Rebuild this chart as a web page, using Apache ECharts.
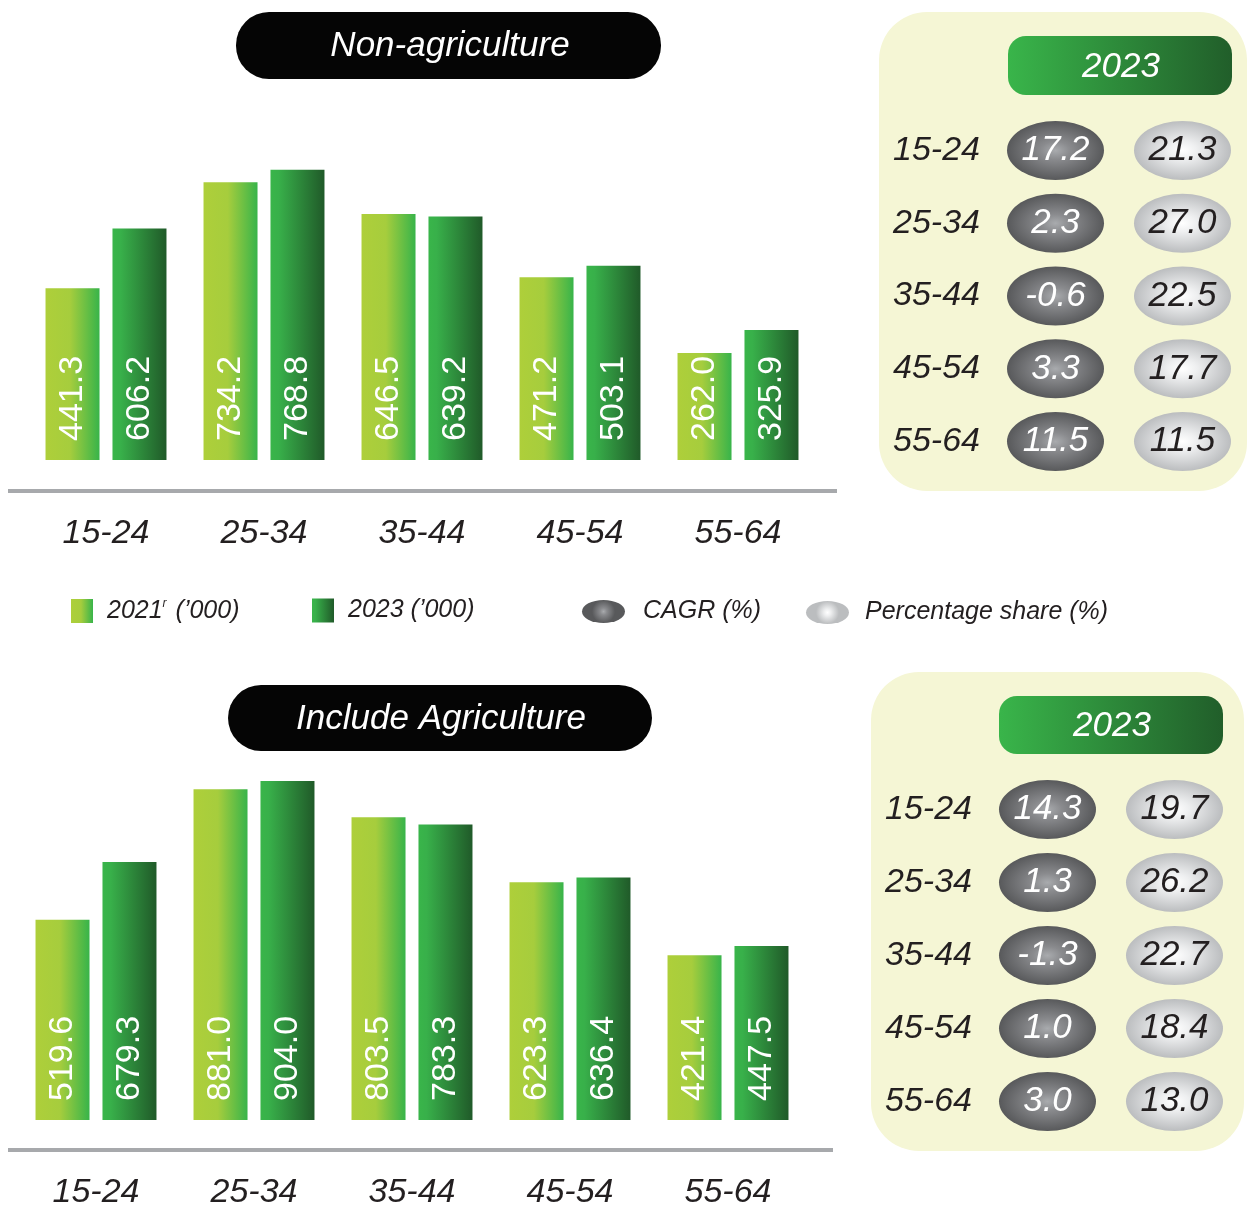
<!DOCTYPE html>
<html>
<head>
<meta charset="utf-8">
<script src="https://cdn.jsdelivr.net/npm/echarts@6/dist/echarts.min.js"></script>
<style>
  html, body { margin: 0; padding: 0; background: #fff; }
  #chartDom { width: 1247px; height: 1205px; }
</style>
</head>
<body>
<div id="chartDom"></div>
<script>
// age groups
const ages = ['15-24', '25-34', '35-44', '45-54', '55-64'];

// Non-agriculture ('000)
const nonAg2021 = [441.3, 734.2, 646.5, 471.2, 262.0];
const nonAg2023 = [606.2, 768.8, 639.2, 503.1, 325.9];
const nonAgCagr = [17.2, 2.3, -0.6, 3.3, 11.5];
const nonAgShare = [21.3, 27.0, 22.5, 17.7, 11.5];

// Include agriculture ('000)
const ag2021 = [519.6, 881.0, 803.5, 623.3, 421.4];
const ag2023 = [679.3, 904.0, 783.3, 636.4, 447.5];
const agCagr = [14.3, 1.3, -1.3, 1.0, 3.0];
const agShare = [19.7, 26.2, 22.7, 18.4, 13.0];

const cols = ['CAGR', 'Share'];

// bars in the source sit on a small stub below zero
const BASE = -34;

const FONT = '"Liberation Sans", Arial, sans-serif';
const ellipse = 'path://M0,50 A50,50 0 1,1 100,50 A50,50 0 1,1 0,50 Z';

const light = new echarts.graphic.LinearGradient(0, 0, 1, 0, [
  { offset: 0, color: '#aecf3a' },
  { offset: 0.45, color: '#a6cd3d' },
  { offset: 1, color: '#38b44a' }
]);
const dark = new echarts.graphic.LinearGradient(0, 0, 1, 0, [
  { offset: 0, color: '#39b54a' },
  { offset: 0.15, color: '#38b04a' },
  { offset: 1, color: '#205a29' }
]);
const greyDark = new echarts.graphic.RadialGradient(0.5, 0.5, 0.5, [
  { offset: 0, color: '#a9abae' },
  { offset: 0.3, color: '#8a8b8e' },
  { offset: 1, color: '#58595b' }
]);
const greyLight = new echarts.graphic.RadialGradient(0.5, 0.5, 0.5, [
  { offset: 0, color: '#ffffff' },
  { offset: 0.3, color: '#eeeff0' },
  { offset: 1, color: '#bbbdbf' }
]);

function barSeries(name, data, axis, color) {
  return {
    name: name,
    type: 'bar',
    xAxisIndex: axis,
    yAxisIndex: axis,
    data: data,
    barWidth: 54,
    barGap: '24%',
    itemStyle: { color: color }
  };
}

// vertical value text laid over each bar, placed via the axis coords
function valueText(data, axis, dx) {
  return {
    type: 'custom',
    xAxisIndex: axis,
    yAxisIndex: axis,
    clip: false,
    z: 5,
    silent: true,
    data: data.map((v, i) => [i, v]),
    renderItem: function (params, api) {
      const pt = api.coord([api.value(0), BASE]);
      return {
        type: 'text',
        x: pt[0] + dx,
        y: pt[1] - 19,
        rotation: Math.PI / 2,
        style: {
          text: api.value(1).toFixed(1),
          fill: '#fff',
          font: '34px ' + FONT,
          align: 'left',
          verticalAlign: 'middle'
        }
      };
    }
  };
}

function dotSeries(name, vals, axis, col, fill, txt) {
  return {
    name: name,
    type: 'scatter',
    xAxisIndex: axis,
    yAxisIndex: axis,
    symbol: ellipse,
    symbolSize: [97, 59],
    itemStyle: { color: fill, opacity: 1 },
    data: vals.map((v, i) => [col, ages[i], v]),
    label: {
      show: true,
      position: 'inside',
      color: txt,
      fontSize: 35,
      fontStyle: 'italic',
      fontFamily: FONT,
      formatter: p => p.value[2].toFixed(1)
    }
  };
}

const catLabel = {
  fontSize: 34,
  fontStyle: 'italic',
  fontFamily: FONT,
  color: '#231f20'
};

function pill(x, y, w, h, r, fill, text, cx, cy) {
  return [
    { type: 'rect', z: -1, shape: { x: x, y: y, width: w, height: h, r: r }, style: { fill: fill } },
    { type: 'text', z: 10, x: cx, y: cy, style: { text: text, fill: '#fff', font: 'italic 35px ' + FONT, align: 'center', verticalAlign: 'middle' } }
  ];
}

const headGrad = new echarts.graphic.LinearGradient(0, 0, 1, 0, [
  { offset: 0, color: '#39b54a' },
  { offset: 1, color: '#215e2a' }
]);

const legendText = { fontSize: 25, fontStyle: 'italic', fontFamily: FONT, color: '#231f20' };

const option = {
  animation: false,
  grid: [
    { left: 27, top: 84, width: 790, height: 376, outerBoundsMode: 'none' },
    { left: 17, top: 744, width: 790, height: 376, outerBoundsMode: 'none' },
    { left: 992, top: 114, width: 254, height: 364, outerBoundsMode: 'none' },
    { left: 984, top: 773, width: 254, height: 365, outerBoundsMode: 'none' }
  ],
  xAxis: [
    { gridIndex: 0, type: 'category', data: ages, axisLine: { show: false }, axisTick: { show: false }, axisLabel: Object.assign({ margin: 57 }, catLabel) },
    { gridIndex: 1, type: 'category', data: ages, axisLine: { show: false }, axisTick: { show: false }, axisLabel: Object.assign({ margin: 56 }, catLabel) },
    { gridIndex: 2, type: 'category', data: cols, show: false },
    { gridIndex: 3, type: 'category', data: cols, show: false }
  ],
  yAxis: [
    { gridIndex: 0, type: 'value', min: BASE, max: 1006, startValue: BASE, show: false },
    { gridIndex: 1, type: 'value', min: BASE, max: 1006, startValue: BASE, show: false },
    { gridIndex: 2, type: 'category', data: ages, inverse: true, axisLine: { show: false }, axisTick: { show: false }, splitLine: { show: false }, axisLabel: Object.assign({ margin: 12 }, catLabel) },
    { gridIndex: 3, type: 'category', data: ages, inverse: true, axisLine: { show: false }, axisTick: { show: false }, splitLine: { show: false }, axisLabel: Object.assign({ margin: 12 }, catLabel) }
  ],
  legend: [
    {
      data: [{ name: '2021', icon: 'rect' }], left: 71, top: 598, padding: 0, itemWidth: 22, itemHeight: 24,
      textStyle: Object.assign({ padding: [0, 0, 0, 9],
        rich: { sup: { fontSize: 12, fontStyle: 'italic', fontFamily: FONT, color: '#231f20', padding: [0, 2, 14, 0] } } }, legendText),
      formatter: () => '2021{sup|r} (\u2019000)'
    },
    {
      data: [{ name: '2023', icon: 'rect' }], left: 312, top: 598, padding: 0, itemWidth: 22, itemHeight: 24,
      textStyle: Object.assign({ padding: [0, 0, 0, 9] }, legendText),
      formatter: () => '2023 (\u2019000)'
    },
    {
      data: [{ name: 'CAGR (%)', icon: ellipse }], left: 582, top: 599, padding: 0, itemWidth: 43, itemHeight: 23,
      symbolKeepAspect: false,
      textStyle: Object.assign({ padding: [0, 0, 0, 13] }, legendText)
    },
    {
      data: [{ name: 'Percentage share (%)', icon: ellipse }], left: 806, top: 600, padding: 0, itemWidth: 43, itemHeight: 23,
      symbolKeepAspect: false,
      textStyle: Object.assign({ padding: [0, 0, 0, 11] }, legendText)
    }
  ],
  graphic: [
    // side panels
    { type: 'rect', z: -2, shape: { x: 879, y: 12, width: 368, height: 479, r: 48 }, style: { fill: '#f5f6d5' } },
    { type: 'rect', z: -2, shape: { x: 871, y: 672, width: 373, height: 479, r: 48 }, style: { fill: '#f5f6d5' } },
    // baseline rules
    { type: 'rect', z: -1, shape: { x: 8, y: 489, width: 829, height: 4 }, style: { fill: '#a7a9ac' } },
    { type: 'rect', z: -1, shape: { x: 8, y: 1148, width: 825, height: 4 }, style: { fill: '#a7a9ac' } }
  ]
    .concat(pill(236, 12, 425, 67, 33, '#050505', 'Non-agriculture', 450, 46))
    .concat(pill(228, 685, 424, 66, 33, '#050505', 'Include Agriculture', 441, 719))
    .concat(pill(1008, 36, 224, 59, 18, headGrad, '2023', 1121, 67))
    .concat(pill(999, 696, 224, 58, 18, headGrad, '2023', 1112, 726)),
  series: [
    barSeries('2021', nonAg2021, 0, light),
    barSeries('2023', nonAg2023, 0, dark),
    barSeries('2021', ag2021, 1, light),
    barSeries('2023', ag2023, 1, dark),
    valueText(nonAg2021, 0, -33.5),
    valueText(nonAg2023, 0, 33.5),
    valueText(ag2021, 1, -33.5),
    valueText(ag2023, 1, 33.5),
    dotSeries('CAGR (%)', nonAgCagr, 2, 'CAGR', greyDark, '#fff'),
    dotSeries('Percentage share (%)', nonAgShare, 2, 'Share', greyLight, '#231f20'),
    dotSeries('CAGR (%)', agCagr, 3, 'CAGR', greyDark, '#fff'),
    dotSeries('Percentage share (%)', agShare, 3, 'Share', greyLight, '#231f20')
  ]
};

var myChart = echarts.init(document.getElementById('chartDom'));
myChart.setOption(option);
</script>
</body>
</html>
